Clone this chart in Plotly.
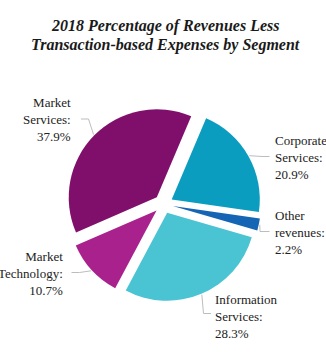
import math
import plotly.graph_objects as go

# ---- data ----
title_lines = ["2018 Percentage of Revenues Less",
               "Transaction-based Expenses by Segment"]
segments = ["Corporate Services", "Other revenues", "Information Services",
            "Market Technology", "Market Services"]
shares = [20.9, 2.2, 28.3, 10.7, 37.9]
label_lines = [["Corporate", "Services:"], ["Other", "revenues:"],
               ["Information", "Services:"], ["Market", "Technology:"],
               ["Market", "Services:"]]
colors = ["#0A9DBF", "#1565B5", "#4AC3D3", "#A8218D", "#800F6C"]

# ---- geometry (pixels) ----
W, H = 326, 358
CX, CY = 163.5, 204        # pie centre
BOX = 195                  # pie box side
PULL = 0.107
ROT = 23
R = BOX / (2 + 2 * PULL)

def px(x):
    return x / W

def py(y):
    return 1 - y / H

fig = go.Figure(go.Pie(
    labels=segments, values=shares, sort=False, direction="clockwise",
    rotation=ROT, pull=[PULL] * len(shares), textinfo="none",
    marker=dict(colors=colors, line=dict(width=0)),
    domain=dict(x=[px(CX - BOX / 2), px(CX + BOX / 2)],
                y=[py(CY + BOX / 2), py(CY - BOX / 2)]),
    showlegend=False, hoverinfo="label+percent",
))

# label placement: (side, text x edge, middle-line y, leader y, elbow x, line end x)
placement = [
    ("left", 272.5, 157, 156.5, 262, 269.5),
    ("left", 273, 232, 231.5, 260, 269.5),
    ("left", 213, 316.5, 313.5, 203.5, 211),
    ("right", 64.5, 273, 272.5, 79.5, 71.5),
    ("right", 72.5, 119.5, 119, 88.5, 81),
]

total = sum(shares)
start = ROT
shapes, annotations = [], []
for v, lines, pl in zip(shares, label_lines, placement):
    span = v / total * 360
    mid = math.radians(start + span / 2)
    start += span
    ox = CX + PULL * R * math.sin(mid)
    oy = CY - PULL * R * math.cos(mid)
    ex = ox + (R + 1) * math.sin(mid)
    ey = oy - (R + 1) * math.cos(mid)
    side, tx, ty, ly, elbx, endx = pl
    shapes.append(dict(
        type="path", xref="paper", yref="paper",
        path=f"M {px(ex)},{py(ey)} L {px(elbx)},{py(ly)} L {px(endx)},{py(ly)}",
        line=dict(color="#BDBDBD", width=1)))
    text = "<br>".join(lines + [f"{v:.1f}%"])
    annotations.append(dict(
        x=px(tx), y=py(ty), xref="paper", yref="paper", text=text,
        showarrow=False, align=side, xanchor="left" if side == "left" else "right",
        yanchor="middle",
        font=dict(family="Liberation Serif", size=13, color="#222222")))

for t, yy in zip(title_lines, [26, 45]):
    annotations.append(dict(
        x=px(165), y=py(yy), xref="paper", yref="paper",
        text=f"<b><i>{t}</i></b>", showarrow=False,
        xanchor="center", yanchor="middle",
        font=dict(family="Liberation Serif", size=16, color="#1a1a1a")))

fig.update_layout(
    width=W, height=H, margin=dict(l=0, r=0, t=0, b=0),
    paper_bgcolor="white", plot_bgcolor="white",
    shapes=shapes, annotations=annotations,
)

fig.write_html("out.html")
